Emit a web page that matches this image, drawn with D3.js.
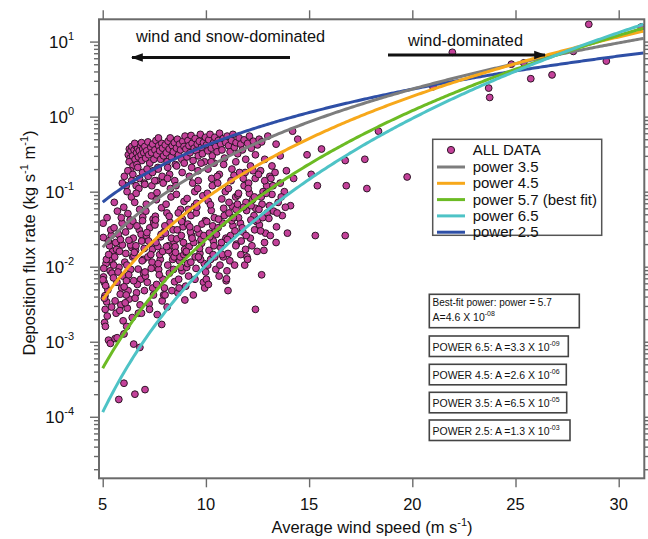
<!DOCTYPE html>
<html>
<head>
<meta charset="utf-8">
<script src="https://cdn.jsdelivr.net/npm/d3@7"></script>
<style>
  body { margin: 0; background: #fff; }
  svg { display: block; }
  text { font-family: "Liberation Sans", Arial, Helvetica, sans-serif; fill: #111; }
</style>
</head>
<body>
<svg id="chart" width="648" height="539"></svg>
<script>
// ---- axis ticks ----
const xTickValues = [5, 10, 15, 20, 25, 30];
const yDecadeExponents = [-4, -3, -2, -1, 0, 1];

// ---- power-law fits: flux = A * U^p ----
const fitLabels = ["power 3.5", "power 4.5", "power 5.7 (best fit)", "power 6.5", "power 2.5"];
const fitPowers = [3.5, 4.5, 5.7, 6.5, 2.5];
const fitCoefficients = [6.5e-5, 2.6e-6, 4.6e-8, 3.3e-9, 1.3e-3];
const fitColors = ["#7d7d7d", "#f7a81b", "#6cbb24", "#4ec3c6", "#2e4fa6"];
const fitDrawOrder = [4, 0, 1, 2, 3];

// ---- observations: [average wind speed (m/s), deposition flux (kg s-1 m-1)] ----
// snow-laden events at moderate wind (upper band)
const obsUpperBand = [
  [6.24,0.31],[6.29,0.37],[6.33,0.28],[6.37,0.35],[6.41,0.40],[6.45,0.30],[6.28,0.25],[6.52,0.36],
  [6.57,0.27],[6.6,0.41],[6.64,0.33],[6.69,0.38],[6.73,0.29],[6.47,0.22],[6.77,0.35],[6.82,0.42],
  [6.86,0.31],[6.9,0.26],[6.94,0.37],[6.99,0.33],[6.35,0.19],[6.66,0.23],[6.55,0.44],[6.88,0.45],
  [7.04,0.40],[7.08,0.28],[7.13,0.35],[7.19,0.46],[7.23,0.31],[7.28,0.24],[7.33,0.39],[7.37,0.33],
  [7.42,0.43],[7.48,0.27],[7.53,0.36],[7.58,0.48],[7.62,0.31],[7.67,0.21],[7.71,0.41],[7.76,0.35],
  [7.81,0.27],[7.86,0.44],[7.9,0.38],[7.95,0.30],[7.45,0.19],[7.7,0.52],
  [8.03,0.42],[8.08,0.33],[8.12,0.25],[8.17,0.47],[8.22,0.37],[8.27,0.52],[8.32,0.29],[8.37,0.41],
  [8.42,0.34],[8.47,0.45],[8.52,0.23],[8.57,0.38],[8.62,0.50],[8.67,0.31],[8.72,0.43],[8.77,0.36],
  [8.83,0.27],[8.88,0.47],[8.94,0.40],[8.99,0.55],
  [9.03,0.37],[9.08,0.29],[9.13,0.48],[9.18,0.41],[9.23,0.33],[9.28,0.56],[9.33,0.44],[9.38,0.26],
  [9.43,0.38],[9.48,0.51],[9.53,0.35],[9.58,0.43],[9.63,0.30],[9.68,0.47],[9.73,0.58],[9.78,0.39],
  [9.83,0.32],[9.88,0.45],[9.93,0.25],[9.98,0.53],
  [10.03,0.42],[10.09,0.35],[10.14,0.49],[10.2,0.58],[10.26,0.38],[10.31,0.30],[10.37,0.45],[10.43,0.53],
  [10.48,0.40],[10.54,0.34],[10.6,0.48],[10.66,0.60],[10.72,0.43],[10.78,0.36],[10.84,0.51],[10.9,0.28],
  [10.96,0.45],[10.4,0.24],
  [11.03,0.55],[11.1,0.41],[11.17,0.34],[11.24,0.48],[11.31,0.58],[11.38,0.39],[11.46,0.45],[11.54,0.32],
  [11.61,0.52],[11.69,0.43],[11.77,0.36],[11.85,0.49],[11.93,0.27],[12.02,0.44],[12.11,0.55],[12.2,0.38],
  [12.3,0.47],[12.4,0.31],[12.5,0.42],[12.58,0.5],
  [12.7,0.46],[12.85,0.27],[13.0,0.55],[13.2,0.22],[13.4,0.43],[13.6,0.30],[13.9,0.19],
  [6.05,0.16],[6.14,0.12],[6.22,0.19],[6.4,0.14],[6.46,0.17],[6.62,0.12],[6.7,0.21],[6.78,0.15],
  [6.93,0.18],[7.02,0.13],[7.15,0.2],[7.2,0.16],[7.38,0.12],[7.41,0.18],[7.6,0.14],[7.69,0.2],
  [7.88,0.16],[7.93,0.13],[8.15,0.21],[8.24,0.17],[8.49,0.14],[8.58,0.22],[8.85,0.18],[8.95,0.24],
  [9.2,0.16],[9.31,0.21],[9.62,0.19],[9.76,0.24],[10.1,0.2],[10.25,0.25],[10.65,0.17],[10.86,0.23],
  [11.26,0.2],[11.45,0.25],[11.9,0.18],[12.16,0.22],[12.65,0.19],[13.1,0.16],[5.95,0.13],[6.18,0.1]
];

// bulk of the record (main cloud)
const obsMainCloud = [
  [5.31,0.021],[5.07,0.0062],[5.44,0.0115],[5.19,0.0034],[5.02,0.038],[5.36,0.0088],[5.12,0.0027],[5.48,0.016],
  [5.25,0.0049],[5.09,0.0018],[5.41,0.026],[5.16,0.011],[5.28,0.00105],[5.04,0.0073],[5.39,0.031],[5.22,0.0022],
  [5.46,0.0135],[5.11,0.0041],[5.33,0.019],[5.14,0.0056],[5.05,0.0095],[5.37,0.00095],[5.21,0.045],[5.43,0.0029],
  [5.01,0.0067],[5.27,0.022],[5.13,0.0016],[5.34,0.0125],[5.08,0.0038],[5.45,0.0082],[5.18,0.0125],[5.03,0.0245],
  [5.29,0.0145],
  [5.67,0.017],[5.92,0.0052],[5.55,0.033],[5.79,0.0098],[5.88,0.0031],[5.63,0.021],[5.97,0.0075],[5.71,0.055],
  [5.58,0.0135],[5.85,0.0043],[5.76,0.027],[5.99,0.0019],[5.53,0.0105],[5.69,0.0062],[5.94,0.038],[5.81,0.016],
  [5.6,0.0035],[5.74,0.0085],[5.6,0.0011],[5.7,0.00113],[5.9,0.045],[5.56,0.072],[5.65,0.0024],[5.83,0.0026],
  [5.52,0.0071],[5.95,0.0195],[5.86,0.023],
  [6.45,0.0135],[6.23,0.0048],[6.11,0.029],[6.36,0.0092],[6.02,0.062],[6.28,0.0037],[6.41,0.018],[6.15,0.0065],
  [6.33,0.042],[6.07,0.0115],[6.19,0.0028],[6.48,0.024],[6.26,0.0078],[6.39,0.085],[6.12,0.015],[6.04,0.0054],
  [6.31,0.035],[6.43,0.0021],[6.17,0.0105],[6.22,0.051],[6.03,0.00127],[6.16,0.0016],[6.09,0.0033],[6.35,0.0195],
  [6.27,0.0225],[6.46,0.0405],[6.14,0.0042],
  [6.59,0.0165],[6.84,0.0068],[6.77,0.031],[6.97,0.0125],[6.64,0.0045],[6.55,0.072],[6.89,0.022],[6.72,0.0093],
  [6.81,0.0031],[6.94,0.046],[6.51,0.014],[6.68,0.0058],[6.86,0.027],[6.75,0.11],[6.98,0.0082],[6.61,0.019],
  [6.57,0.0038],[6.79,0.058],[6.91,0.012],[6.66,0.035],[6.5,0.0065],[6.5,0.00093],[6.8,0.00084],[6.73,0.0024],
  [6.53,0.0155],[6.88,0.0024],[6.62,0.095],[6.93,0.041],
  [7.31,0.0205],[7.07,0.0075],[7.44,0.043],[7.19,0.0135],[7.02,0.0048],[7.36,0.088],[7.12,0.026],[7.48,0.0098],
  [7.25,0.0032],[7.09,0.055],[7.41,0.017],[7.16,0.0062],[7.28,0.033],[7.04,0.125],[7.39,0.0115],[7.22,0.022],
  [7.46,0.0042],[7.11,0.068],[7.33,0.0145],[7.14,0.0285],[7.27,0.0027],[7.05,0.0085],[7.47,0.038],[7.35,0.0095],
  [7.01,0.0175],[7.42,0.0052],
  [7.67,0.0185],[7.92,0.0068],[7.55,0.047],[7.79,0.0125],[7.88,0.0035],[7.63,0.097],[7.97,0.029],[7.71,0.0092],
  [7.58,0.021],[7.85,0.061],[7.76,0.0145],[7.99,0.0052],[7.53,0.036],[7.69,0.011],[7.86,0.0017],[7.81,0.025],
  [7.6,0.078],[7.74,0.0078],[7.9,0.016],[7.56,0.042],[7.64,0.0023],[7.52,0.14],[7.95,0.0042],[7.83,0.027],
  [7.61,0.0058],
  [8.45,0.0215],[8.23,0.0082],[8.11,0.052],[8.36,0.015],[8.02,0.0042],[8.28,0.11],[8.41,0.031],[8.15,0.0105],
  [8.33,0.024],[8.07,0.068],[8.19,0.0165],[8.48,0.0063],[8.26,0.039],[8.39,0.0125],[8.12,0.0029],[8.04,0.028],
  [8.31,0.085],[8.43,0.0092],[8.17,0.019],[8.22,0.047],[8.09,0.0185],[8.35,0.0048],[8.46,0.0135],[8.14,0.15],
  [8.01,0.035],
  [8.59,0.0235],[8.84,0.0088],[8.77,0.058],[8.97,0.017],[8.64,0.0045],[8.55,0.12],[8.89,0.034],[8.72,0.012],
  [8.81,0.026],[8.94,0.074],[8.51,0.0185],[8.68,0.0068],[8.86,0.043],[8.75,0.0135],[8.98,0.0036],[8.61,0.031],
  [8.57,0.092],[8.79,0.0098],[8.91,0.021],[8.66,0.052],[8.53,0.0155],[8.7,0.0052],[8.93,0.0145],[8.82,0.04],
  [9.31,0.026],[9.07,0.0098],[9.44,0.064],[9.19,0.0185],[9.02,0.0055],[9.36,0.13],[9.12,0.037],[9.48,0.0135],
  [9.25,0.029],[9.09,0.081],[9.41,0.021],[9.16,0.0075],[9.28,0.048],[9.04,0.0155],[9.39,0.0042],[9.22,0.034],
  [9.46,0.1],[9.11,0.011],[9.33,0.024],[9.14,0.058],[9.27,0.0115],[9.05,0.016],[9.47,0.0068],
  [9.67,0.028],[9.92,0.011],[9.55,0.07],[9.79,0.0205],[9.88,0.0062],[9.63,0.14],[9.97,0.041],[9.71,0.015],
  [9.58,0.032],[9.85,0.088],[9.76,0.023],[9.99,0.0085],[9.53,0.052],[9.69,0.0175],[9.94,0.0052],[9.81,0.037],
  [9.6,0.11],[9.74,0.0125],[9.9,0.026],[9.56,0.062],[9.64,0.0135],[9.52,0.0095],
  [10.45,0.031],[10.23,0.0125],[10.11,0.075],[10.36,0.022],[10.02,0.0068],[10.28,0.15],[10.41,0.045],[10.15,0.0165],
  [10.33,0.035],[10.07,0.095],[10.19,0.025],[10.48,0.0092],[10.26,0.056],[10.39,0.019],[10.12,0.0058],[10.04,0.04],
  [10.31,0.12],[10.43,0.0135],[10.17,0.028],[10.22,0.067],[10.09,0.0105],[10.35,0.0145],
  [10.59,0.033],[10.84,0.0135],[10.77,0.08],[10.97,0.024],[10.64,0.0075],[10.55,0.16],[10.89,0.048],[10.72,0.018],
  [10.81,0.038],[10.94,0.1],[10.51,0.027],[10.68,0.0105],[10.86,0.06],[10.75,0.021],[10.98,0.0065],[10.61,0.043],
  [10.57,0.13],[10.79,0.0145],[11.0,0.0069],
  [11.31,0.035],[11.07,0.015],[11.44,0.085],[11.19,0.026],[11.02,0.0088],[11.36,0.165],[11.12,0.052],[11.48,0.02],
  [11.25,0.041],[11.09,0.11],[11.41,0.03],[11.16,0.012],[11.28,0.064],[11.04,0.023],[11.07,0.0048],[11.39,0.0105],
  [11.22,0.14],[11.46,0.058],
  [11.67,0.038],[11.92,0.017],[11.55,0.09],[11.79,0.029],[11.88,0.0105],[11.63,0.18],[11.97,0.056],[11.71,0.022],
  [11.58,0.045],[11.85,0.12],[11.76,0.033],[11.99,0.0135],[11.53,0.068],[11.69,0.0145],[11.94,0.072],[11.81,0.15],
  [12.45,0.04],[12.23,0.019],[12.11,0.095],[12.36,0.031],[12.02,0.0125],[12.28,0.19],[12.41,0.06],[12.15,0.024],
  [12.33,0.048],[12.07,0.13],[12.4,0.0027],[12.19,0.065],[12.48,0.016],[12.26,0.078],[12.39,0.15],
  [12.59,0.036],[12.84,0.021],[12.77,0.1],[12.97,0.052],[12.7,0.0078],[12.55,0.17],[12.89,0.028],[12.72,0.068],
  [12.81,0.0165],[12.94,0.12],[12.51,0.042],[12.68,0.085],
  [13.05,0.044],[13.12,0.026],[13.2,0.092],[13.28,0.055],[13.35,0.18],[13.42,0.034],[13.5,0.072],[13.6,0.13],
  [13.7,0.048],[13.8,0.1],[13.95,0.028],[14.1,0.065],[14.25,0.15],[13.15,0.15],
  [11.12,0.072],[11.33,0.045],[11.58,0.095],[11.83,0.062],[12.05,0.11],[12.18,0.042],[12.35,0.085],[12.57,0.058],
  [12.75,0.045],[12.92,0.095],[13.08,0.065],[13.25,0.12],[13.45,0.052],[13.65,0.085],[13.85,0.062],[13.4,0.021],
  [12.65,0.03],[11.95,0.026],[11.45,0.019],[12.85,0.14],
  [6.03,0.00028],[5.78,0.00017],[6.56,0.0002],[7.05,0.00023]
];

// stronger-wind events
const obsHighWind = [
  [14.2,0.64],[14.45,0.5],[14.9,0.31],[15.1,0.17],[15.4,0.12],[15.6,0.37],[15.3,0.026],
  [16.75,0.26],[16.8,0.12],[16.75,0.026],[17.7,0.27],[17.8,0.11],[18.36,0.64],[19.75,0.157],
  [21.0,2.5],[23.7,2.4],[23.75,1.8],
  [21.94,7.2],[24.8,5.0],[25.4,5.2],[25.74,3.2],[26.77,3.6],
  [27.8,7.4],[28.55,17],[29.4,5.5],[31.08,15.6]
];

const observations = obsUpperBand.concat(obsMainCloud, obsHighWind);

// ---- layout ----
const svg = d3.select("#chart");
const plot = { left: 99, right: 644.3, top: 19.3, bottom: 478.3 };

const x = d3.scaleLinear().domain([4.82, 31.24]).range([plot.left, plot.right]);
const y = d3.scaleLog().domain([Math.pow(10, -4.82), Math.pow(10, 1.297)]).range([plot.bottom, plot.top]);

const axisColor = "#6a6a6a";

// minor/major log ticks on y
const yMajor = yDecadeExponents.map(e => Math.pow(10, e));
const yMinor = [];
for (let e = -5; e <= 1; e++) {
  for (let m = 2; m <= 9; m++) {
    const v = m * Math.pow(10, e);
    if (v >= y.domain()[0] && v <= y.domain()[1]) yMinor.push(v);
  }
}

function styleAxis(g) {
  g.select(".domain").remove();
  g.selectAll(".tick line").attr("stroke", axisColor).attr("stroke-width", 1.4);
  g.selectAll(".tick text").remove();
}

// left axis
svg.append("g").attr("transform", `translate(${plot.left},0)`)
  .call(d3.axisLeft(y).tickValues(yMinor).tickSize(5).tickFormat("")).call(styleAxis);
svg.append("g").attr("transform", `translate(${plot.left},0)`)
  .call(d3.axisLeft(y).tickValues(yMajor).tickSize(9).tickFormat("")).call(styleAxis);
// right axis
svg.append("g").attr("transform", `translate(${plot.right},0)`)
  .call(d3.axisRight(y).tickValues(yMinor).tickSize(5).tickFormat("")).call(styleAxis);
svg.append("g").attr("transform", `translate(${plot.right},0)`)
  .call(d3.axisRight(y).tickValues(yMajor).tickSize(9).tickFormat("")).call(styleAxis);
// bottom and top axes
svg.append("g").attr("transform", `translate(0,${plot.bottom})`)
  .call(d3.axisBottom(x).tickValues(xTickValues).tickSize(9).tickFormat("")).call(styleAxis);
svg.append("g").attr("transform", `translate(0,${plot.top})`)
  .call(d3.axisTop(x).tickValues(xTickValues).tickSize(9).tickFormat("")).call(styleAxis);

// x tick labels
svg.append("g").selectAll("text").data(xTickValues).join("text")
  .attr("x", d => x(d)).attr("y", 510)
  .attr("text-anchor", "middle").attr("font-size", 16.5)
  .text(d => d);

// y tick labels: 10^n
const yLab = svg.append("g").selectAll("text").data(yDecadeExponents).join("text")
  .attr("x", 74).attr("y", d => y(Math.pow(10, d)) + 6)
  .attr("text-anchor", "end").attr("font-size", 17);
yLab.append("tspan").text("10");
yLab.append("tspan").attr("dy", -8).attr("font-size", 11).text(d => d < 0 ? "-" + Math.abs(d) : d);

// axis titles
const xt = svg.append("text").attr("x", 372).attr("y", 533).attr("text-anchor", "middle").attr("font-size", 16.5);
xt.append("tspan").text("Average wind speed (m s");
xt.append("tspan").attr("dy", -7).attr("font-size", 11).text("-1");
xt.append("tspan").attr("dy", 7).text(")");

const yt = svg.append("text").attr("transform", "translate(35,243) rotate(-90)")
  .attr("text-anchor", "middle").attr("font-size", 16.5);
yt.append("tspan").text("Deposition flux rate (kg s");
yt.append("tspan").attr("dy", -7).attr("font-size", 11).text("-1");
yt.append("tspan").attr("dy", 7).text(" m");
yt.append("tspan").attr("dy", -7).attr("font-size", 11).text("-1");
yt.append("tspan").attr("dy", 7).text(")");

// clip for data
svg.append("defs").append("clipPath").attr("id", "plotClip")
  .append("rect").attr("x", plot.left).attr("y", plot.top)
  .attr("width", plot.right - plot.left).attr("height", plot.bottom - plot.top);

const dataLayer = svg.append("g").attr("clip-path", "url(#plotClip)");

// observations
dataLayer.append("g").selectAll("circle").data(observations).join("circle")
  .attr("cx", d => x(d[0])).attr("cy", d => y(d[1])).attr("r", 3.4)
  .attr("fill", "#c4419a").attr("stroke", "#2e1627").attr("stroke-width", 1);

// fitted power curves
const uSamples = d3.range(5, 31.3, 0.1);
const line = d3.line().x(d => x(d[0])).y(d => y(d[1]));
fitDrawOrder.forEach(i => {
  const pts = uSamples.map(u => [u, fitCoefficients[i] * Math.pow(u, fitPowers[i])]);
  dataLayer.append("path").datum(pts).attr("d", line)
    .attr("fill", "none").attr("stroke", fitColors[i]).attr("stroke-width", 3);
});

// frame
svg.append("rect").attr("x", plot.left).attr("y", plot.top)
  .attr("width", plot.right - plot.left).attr("height", plot.bottom - plot.top)
  .attr("fill", "none").attr("stroke", axisColor).attr("stroke-width", 2);

// regime annotations
svg.append("defs").append("marker").attr("id", "arrowHead")
  .attr("viewBox", "0 0 10 10").attr("refX", 9).attr("refY", 5)
  .attr("markerWidth", 4).attr("markerHeight", 4).attr("orient", "auto")
  .append("path").attr("d", "M0,1.5 L10,5 L0,8.5 Z").attr("fill", "#111");

svg.append("text").attr("x", 136).attr("y", 42).attr("font-size", 16.3).text("wind and snow-dominated");
svg.append("line").attr("x1", 290).attr("y1", 57.5).attr("x2", 132).attr("y2", 57.5)
  .attr("stroke", "#111").attr("stroke-width", 3).attr("marker-end", "url(#arrowHead)");
svg.append("text").attr("x", 408).attr("y", 46).attr("font-size", 16.3).text("wind-dominated");
svg.append("line").attr("x1", 388).attr("y1", 55).attr("x2", 545).attr("y2", 55)
  .attr("stroke", "#111").attr("stroke-width", 3).attr("marker-end", "url(#arrowHead)");

// legend
const legend = svg.append("g");
legend.append("rect").attr("x", 432.7).attr("y", 139.3).attr("width", 169).attr("height", 96)
  .attr("fill", "#fff").attr("stroke", "#555").attr("stroke-width", 1.5);
legend.append("circle").attr("cx", 451).attr("cy", 150).attr("r", 3.6)
  .attr("fill", "#c4419a").attr("stroke", "#2e1627").attr("stroke-width", 1);
legend.append("text").attr("x", 472.7).attr("y", 155).attr("font-size", 15).text("ALL DATA");
fitLabels.forEach((lab, i) => {
  const cy = 167 + i * 16.3;
  legend.append("line").attr("x1", 437).attr("x2", 465).attr("y1", cy).attr("y2", cy)
    .attr("stroke", fitColors[i]).attr("stroke-width", 3);
  legend.append("text").attr("x", 472.7).attr("y", cy + 5).attr("font-size", 15).text(lab);
});

// coefficient boxes
const boxLayer = svg.append("g");
function coefBox(yTop, h, w) {
  boxLayer.append("rect").attr("x", 429.3).attr("y", yTop).attr("width", w).attr("height", h)
    .attr("fill", "#fff").attr("stroke", "#444").attr("stroke-width", 1.6);
}
coefBox(294.3, 33.4, 150);
const b1 = boxLayer.append("text").attr("x", 432.5).attr("y", 306).attr("font-size", 10).attr("fill", "#333");
b1.text("Best-fit power: power = 5.7");
const b1b = boxLayer.append("text").attr("x", 432.5).attr("y", 321).attr("font-size", 10.5);
b1b.append("tspan").text("A=4.6  X 10");
b1b.append("tspan").attr("dy", -5).attr("font-size", 7).text("-08");

const boxRows = [
  { yTop: 336, w: 139, power: "6.5", coef: "3.3", exp: "-09" },
  { yTop: 364.3, w: 137, power: "4.5", coef: "2.6", exp: "-06" },
  { yTop: 392.3, w: 137.4, power: "3.5", coef: "6.5", exp: "-05" },
  { yTop: 420, w: 140.7, power: "2.5", coef: "1.3", exp: "-03" }
];
boxRows.forEach(r => {
  coefBox(r.yTop, 20.5, r.w);
  const t = boxLayer.append("text").attr("x", 432.5).attr("y", r.yTop + 14.5).attr("font-size", 10.5);
  t.append("tspan").text(`POWER ${r.power}: A =${r.coef}  X 10`);
  t.append("tspan").attr("dy", -5).attr("font-size", 7).text(r.exp);
});
</script>
</body>
</html>
